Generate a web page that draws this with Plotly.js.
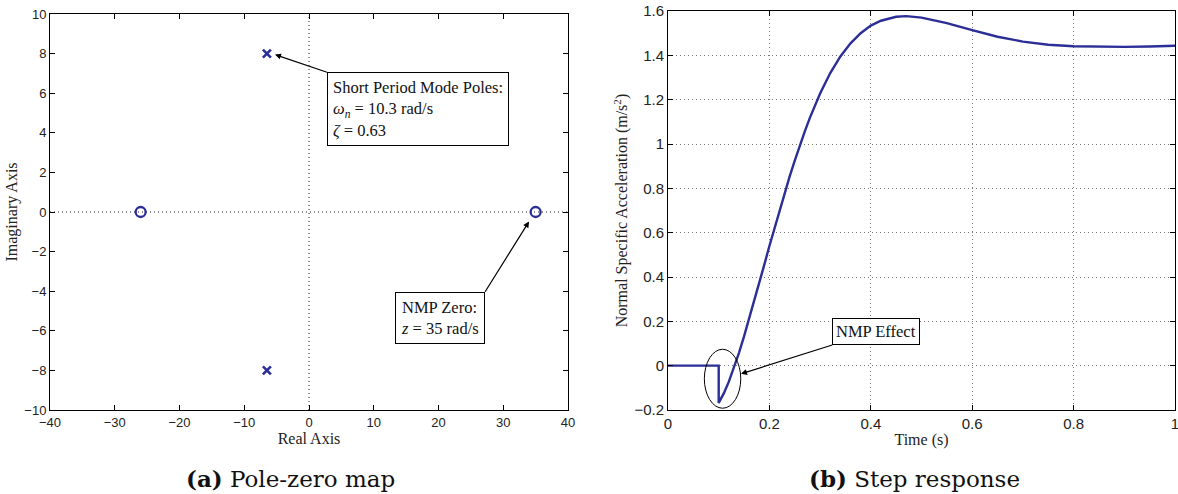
<!DOCTYPE html>
<html><head><meta charset="utf-8">
<script src="https://cdn.plot.ly/plotly-3.0.1.min.js"></script>
<style>html,body{margin:0;padding:0;background:#fff}#chart{width:1178px;height:494px}</style>
</head><body><div id="chart"></div>
<script>
// Pole-zero map data
const poleRe = [-6.5, -6.5];
const poleIm = [8, -8];
const zeroRe = [-26, 35];
const zeroIm = [0, 0];

// Step response data
const timeS = [0, 0.1, 0.1, 0.11, 0.12, 0.13, 0.14, 0.15, 0.16, 0.17, 0.18, 0.19, 0.20,
  0.21, 0.22, 0.23, 0.24, 0.25, 0.26, 0.27, 0.28, 0.29, 0.30, 0.32, 0.34, 0.36, 0.38,
  0.40, 0.42, 0.45, 0.47, 0.50, 0.55, 0.60, 0.65, 0.70, 0.75, 0.80, 0.85, 0.90, 0.95, 1.00];
const accel = [0, 0, -0.168, -0.125, -0.072, -0.010, 0.058, 0.132, 0.210, 0.291, 0.373, 0.456, 0.540,
  0.621, 0.701, 0.779, 0.854, 0.925, 0.994, 1.058, 1.119, 1.175, 1.228, 1.320, 1.395, 1.454, 1.500,
  1.534, 1.556, 1.574, 1.577, 1.570, 1.545, 1.514, 1.484, 1.462, 1.448, 1.441, 1.438, 1.438, 1.440, 1.443];

// Tick values / labels
const pzXTicks = [-40, -30, -20, -10, 0, 10, 20, 30, 40];
const pzYTicks = [-10, -8, -6, -4, -2, 0, 2, 4, 6, 8, 10];
const stepXTicks = [0, 0.2, 0.4, 0.6, 0.8, 1];
const stepXLabels = ['0', '0.2', '0.4', '0.6', '0.8', '1'];
const stepYTicks = [-0.2, 0, 0.2, 0.4, 0.6, 0.8, 1, 1.2, 1.4, 1.6];
const stepYLabels = ['\u22120.2', '0', '0.2', '0.4', '0.6', '0.8', '1', '1.2', '1.4', '1.6'];

// Texts
const pzXTitle = 'Real Axis';
const pzYTitle = 'Imaginary Axis';
const stepXTitle = 'Time (s)';
const stepYTitle = 'Normal Specific Acceleration (m/s<sup>2</sup>)';
const poleNote = 'Short Period Mode Poles:<br><i>ω</i><sub><i>n</i></sub> = 10.3 rad/s<br><i>ζ</i> = 0.63';
const zeroNote = 'NMP Zero:<br><i>z</i> = 35 rad/s';
const nmpNote = 'NMP Effect';
const capA = '<b>(a)</b> Pole-zero map';
const capB = '<b>(b)</b> Step response';

const BLUE = '#2b2e96';
const serif = 'Liberation Serif, Times New Roman, serif';
const sans = 'Liberation Sans, Arial, sans-serif';

const traces = [
  {x: poleRe, y: poleIm, xaxis: 'x', yaxis: 'y', mode: 'markers', type: 'scatter',
   marker: {symbol: 'x-thin-open', size: 8, color: BLUE, line: {color: BLUE, width: 2.6}}, hoverinfo: 'skip'},
  {x: zeroRe, y: zeroIm, xaxis: 'x', yaxis: 'y', mode: 'markers', type: 'scatter',
   marker: {symbol: 'circle-open', size: 10, color: BLUE, line: {color: BLUE, width: 2.3}}, hoverinfo: 'skip'},
  {x: timeS, y: accel, xaxis: 'x2', yaxis: 'y2', mode: 'lines', type: 'scatter',
   line: {color: BLUE, width: 2.4}, hoverinfo: 'skip'}
];

function axisBase(extra) {
  return Object.assign({
    showline: true, linecolor: '#000', linewidth: 1, mirror: 'ticks',
    ticks: 'inside', ticklen: 5, tickwidth: 1, tickcolor: '#000',
    zeroline: false, automargin: false, fixedrange: true, ticklabeloverflow: 'allow'
  }, extra);
}

const noteFont = {family: serif, size: 16.5, color: '#111'};
const arrowStyle = {showarrow: true, arrowhead: 2, arrowsize: 1, arrowwidth: 1.2, arrowcolor: '#000',
  standoff: 0, startstandoff: 0, bordercolor: '#000', borderwidth: 1, bgcolor: '#fff', align: 'left', font: noteFont};

const layout = {
  width: 1178, height: 494,
  margin: {l: 0, r: 0, t: 0, b: 0},
  paper_bgcolor: '#fff', plot_bgcolor: '#fff',
  showlegend: false,
  xaxis: axisBase({domain: [50/1178, 568/1178], range: [-40, 40], anchor: 'y',
    tickmode: 'array', tickvals: pzXTicks, showgrid: false,
    tickfont: {family: sans, size: 13, color: '#222'},
    title: {text: pzXTitle, font: {family: serif, size: 16, color: '#222'}, standoff: 3}}),
  yaxis: axisBase({domain: [84/494, 480/494], range: [-10, 10], anchor: 'x',
    tickmode: 'array', tickvals: pzYTicks, showgrid: false,
    tickfont: {family: sans, size: 13, color: '#222'},
    title: {text: pzYTitle, font: {family: serif, size: 16, color: '#222'}, standoff: 2}}),
  xaxis2: axisBase({domain: [668/1178, 1175/1178], range: [0, 1], anchor: 'y2',
    tickmode: 'array', tickvals: stepXTicks, ticktext: stepXLabels,
    showgrid: true, gridcolor: '#777', griddash: '1px,3px', gridwidth: 1,
    tickfont: {family: sans, size: 15, color: '#222'},
    title: {text: stepXTitle, font: {family: serif, size: 16, color: '#222'}, standoff: 2}}),
  yaxis2: axisBase({domain: [84/494, 483/494], range: [-0.2, 1.6], anchor: 'x2',
    tickmode: 'array', tickvals: stepYTicks, ticktext: stepYLabels,
    showgrid: true, gridcolor: '#777', griddash: '1px,3px', gridwidth: 1,
    tickfont: {family: sans, size: 15, color: '#222'},
    title: {text: stepYTitle, font: {family: serif, size: 16, color: '#222'}, standoff: 2}}),
  shapes: [
    {type: 'line', xref: 'x', yref: 'y', x0: 0, x1: 0, y0: -10, y1: 10, line: {color: '#222', width: 1, dash: '1px,3px'}, layer: 'below'},
    {type: 'line', xref: 'x', yref: 'y', x0: -40, x1: 40, y0: 0, y1: 0, line: {color: '#222', width: 1, dash: '1px,3px'}, layer: 'below'},
    {type: 'circle', xref: 'x2', yref: 'y2', x0: 0.0717, x1: 0.1435, y0: -0.192, y1: 0.074, line: {color: '#000', width: 1}}
  ],
  annotations: [
    Object.assign({xref: 'x', yref: 'y', x: -5.25, y: 7.95, axref: 'x', ayref: 'y', ax: 2.78, ay: 7.06,
      xanchor: 'left', yanchor: 'top', text: poleNote, borderpad: 5}, arrowStyle),
    Object.assign({xref: 'x', yref: 'y', x: 33.98, y: -0.48, axref: 'x', ayref: 'y', ax: 27.2, ay: -4.03,
      xanchor: 'right', yanchor: 'top', text: zeroNote, borderpad: 5}, arrowStyle),
    Object.assign({xref: 'x2', yref: 'y2', x: 0.144, y: -0.037, axref: 'x2', ayref: 'y2', ax: 0.324, ay: 0.093,
      xanchor: 'left', yanchor: 'bottom', text: nmpNote, borderpad: 3}, arrowStyle),
    {xref: 'paper', yref: 'paper', x: 290/1178, y: 16/494, xanchor: 'center', yanchor: 'middle', showarrow: false,
     text: capA, font: {family: "'DejaVu Serif', serif", size: 23, color: '#111'}},
    {xref: 'paper', yref: 'paper', x: 915/1178, y: 16/494, xanchor: 'center', yanchor: 'middle', showarrow: false,
     text: capB, font: {family: "'DejaVu Serif', serif", size: 23, color: '#111'}}
  ]
};

Plotly.newPlot('chart', traces, layout, {staticPlot: true, displayModeBar: false});
</script>
</body></html>
